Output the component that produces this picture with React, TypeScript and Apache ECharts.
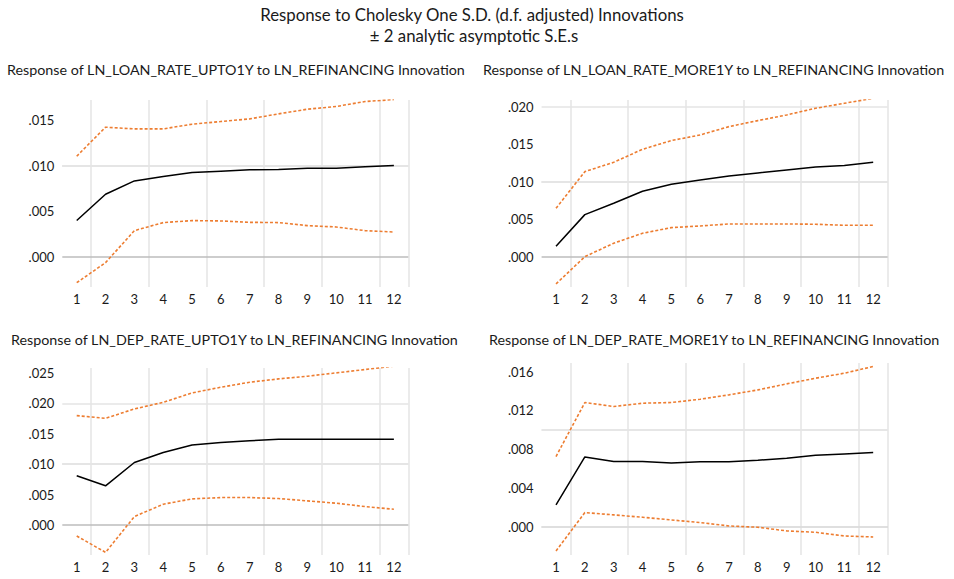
import React, { useEffect, useRef } from 'react';
import * as echarts from 'echarts';

const periods = ['1', '2', '3', '4', '5', '6', '7', '8', '9', '10', '11', '12'];

const mainTitle1 = 'Response to Cholesky One S.D. (d.f. adjusted) Innovations';
const mainTitle2 = '± 2 analytic asymptotic S.E.s';

const panelTitles = [
  'Response of LN_LOAN_RATE_UPTO1Y to LN_REFINANCING Innovation',
  'Response of LN_LOAN_RATE_MORE1Y to LN_REFINANCING Innovation',
  'Response of LN_DEP_RATE_UPTO1Y to LN_REFINANCING Innovation',
  'Response of LN_DEP_RATE_MORE1Y to LN_REFINANCING Innovation',
];

// Panel 1: LN_LOAN_RATE_UPTO1Y
const loanUpto1yResp = [0.0040, 0.00688, 0.00834, 0.00882, 0.00925, 0.0094, 0.00955, 0.00958, 0.00973, 0.00973, 0.00988, 0.01002];
const loanUpto1yUpper = [0.01105, 0.01423, 0.01404, 0.01404, 0.01456, 0.01485, 0.01514, 0.01569, 0.0162, 0.0165, 0.01704, 0.01726];
const loanUpto1yLower = [-0.00282, -0.00062, 0.00289, 0.00377, 0.00399, 0.00395, 0.0038, 0.00377, 0.00344, 0.00329, 0.00289, 0.00274];
const loanUpto1yTicks = [0, 0.005, 0.01, 0.015];

// Panel 2: LN_LOAN_RATE_MORE1Y
const loanMore1yResp = [0.00142, 0.00563, 0.00714, 0.00874, 0.00967, 0.01024, 0.01078, 0.01118, 0.01157, 0.01197, 0.01215, 0.01259];
const loanMore1yUpper = [0.00647, 0.01135, 0.01259, 0.01432, 0.01548, 0.01623, 0.01734, 0.01814, 0.01889, 0.01978, 0.02044, 0.02111];
const loanMore1yLower = [-0.00359, 0.00004, 0.00182, 0.00315, 0.0039, 0.00412, 0.00439, 0.00439, 0.00439, 0.00435, 0.00421, 0.00421];
const loanMore1yTicks = [0, 0.005, 0.01, 0.015, 0.02];

// Panel 3: LN_DEP_RATE_UPTO1Y
const depUpto1yResp = [0.00808, 0.00643, 0.01027, 0.01192, 0.01313, 0.01357, 0.01385, 0.01407, 0.01407, 0.01407, 0.01407, 0.01407];
const depUpto1yUpper = [0.01797, 0.01753, 0.01907, 0.02016, 0.0217, 0.02264, 0.02346, 0.02401, 0.02445, 0.025, 0.02555, 0.0261];
const depUpto1yLower = [-0.00181, -0.00451, 0.00137, 0.00341, 0.00429, 0.0045, 0.0045, 0.00434, 0.00396, 0.00357, 0.00302, 0.00258];
const depUpto1yTicks = [0, 0.005, 0.01, 0.015, 0.02, 0.025];

// Panel 4: LN_DEP_RATE_MORE1Y
const depMore1yResp = [0.00227, 0.00721, 0.00673, 0.00673, 0.00659, 0.0067, 0.0067, 0.00687, 0.00707, 0.00738, 0.00752, 0.00766];
const depMore1yUpper = [0.00725, 0.01281, 0.0124, 0.01274, 0.01281, 0.01315, 0.0136, 0.01411, 0.01473, 0.01531, 0.01583, 0.01652];
const depMore1yLower = [-0.00247, 0.00148, 0.00124, 0.001, 0.00072, 0.00045, 0.0001, -0.00003, -0.00041, -0.00055, -0.00093, -0.00103];
const depMore1yTicks = [0, 0.004, 0.008, 0.012, 0.016];

const FONT = 'Lato, "Noto Sans", sans-serif';
const TEXT = '#1a1a1a';
const GRID_COLOR = '#e4e4e4';
const ZERO_COLOR = '#bdbdbd';
const BAND_COLOR = '#ED7D31';

const fmt = (v: number) => v.toFixed(3).replace(/^0/, '').replace(/^-0/, '-');

export default function App() {
  const ref = useRef<HTMLDivElement>(null);

  useEffect(() => {
    const chart = echarts.init(ref.current!, null, { renderer: 'svg' });

    const panels = [
      { resp: loanUpto1yResp, upper: loanUpto1yUpper, lower: loanUpto1yLower, ticks: loanUpto1yTicks, min: -0.00329, max: 0.01721 },
      { resp: loanMore1yResp, upper: loanMore1yUpper, lower: loanMore1yLower, ticks: loanMore1yTicks, min: -0.004, max: 0.02088 },
      { resp: depUpto1yResp, upper: depUpto1yUpper, lower: depUpto1yLower, ticks: depUpto1yTicks, min: -0.00494, max: 0.0258 },
      { resp: depMore1yResp, upper: depMore1yUpper, lower: depMore1yLower, ticks: depMore1yTicks, min: -0.00289, max: 0.01688 },
    ];

    const grids = [
      { left: 62.3, top: 100, width: 346, height: 187 },
      { left: 541.6, top: 100, width: 346, height: 187 },
      { left: 62.3, top: 368, width: 346, height: 187 },
      { left: 541.6, top: 363, width: 346, height: 192 },
    ];

    const titlePos = [
      { left: 7, top: 62 },
      { left: 483, top: 62 },
      { left: 11, top: 332 },
      { left: 489, top: 332 },
    ];

    const xAxis = panels.map((_, i) => ({
      type: 'category',
      gridIndex: i,
      data: periods,
      boundaryGap: true,
      axisLine: { show: false },
      axisTick: { show: false },
      axisLabel: { color: TEXT, fontSize: 13, fontFamily: FONT, margin: 5, interval: 0 },
      splitLine: {
        show: true,
        interval: (idx: number) => idx % 2 === 1,
        lineStyle: { color: GRID_COLOR, width: 1.5 },
      },
    }));

    const yAxis = panels.map((p, i) => ({
      type: 'value',
      gridIndex: i,
      min: p.min,
      max: p.max,
      axisLine: { show: false },
      axisTick: { show: false },
      splitLine: { show: false },
      axisLabel: {
        customValues: p.ticks,
        formatter: fmt,
        color: TEXT,
        fontSize: 13,
        fontFamily: FONT,
        margin: 8,
      },
    }));

    const series: any[] = [];
    panels.forEach((p, i) => {
      series.push({
        type: 'line',
        xAxisIndex: i,
        yAxisIndex: i,
        data: p.resp,
        showSymbol: false,
        symbol: 'none',
        z: 4,
        lineStyle: { color: '#000000', width: 1.5 },
        markLine: {
          silent: true,
          symbol: 'none',
          z: 1,
          label: { show: false },
          animation: false,
          emphasis: { disabled: true },
          data: p.ticks.map((v) => ({
            yAxis: v,
            lineStyle: { color: v === 0 ? ZERO_COLOR : GRID_COLOR, width: 1.5, type: 'solid' },
          })),
        },
      });
      series.push({
        type: 'line',
        xAxisIndex: i,
        yAxisIndex: i,
        data: p.upper,
        showSymbol: false,
        symbol: 'none',
        z: 3,
        lineStyle: { color: BAND_COLOR, width: 1.6, type: [3, 2] },
      });
      series.push({
        type: 'line',
        xAxisIndex: i,
        yAxisIndex: i,
        data: p.lower,
        showSymbol: false,
        symbol: 'none',
        z: 3,
        lineStyle: { color: BAND_COLOR, width: 1.6, type: [3, 2] },
      });
    });

    const titles: any[] = panelTitles.map((t, i) => ({
      text: t,
      left: titlePos[i].left,
      top: titlePos[i].top,
      padding: 0,
      textStyle: { fontSize: 14.3, fontWeight: 'normal', color: TEXT, fontFamily: FONT },
    }));

    const mainFont = `16.8px ${FONT}`;

    chart.setOption({
      animation: false,
      backgroundColor: '#ffffff',
      title: titles,
      grid: grids,
      xAxis,
      yAxis,
      series,
      graphic: [
        {
          type: 'text',
          x: 472,
          y: 14,
          silent: true,
          style: { text: mainTitle1, font: mainFont, fill: TEXT, textAlign: 'center', textVerticalAlign: 'middle' },
        },
        {
          type: 'text',
          x: 474,
          y: 35,
          silent: true,
          style: { text: mainTitle2, font: mainFont, fill: TEXT, textAlign: 'center', textVerticalAlign: 'middle' },
        },
      ],
    });

    return () => chart.dispose();
  }, []);

  return (
    <div
      ref={ref}
      style={{ position: 'absolute', left: 0, top: 0, width: 954, height: 579, background: '#fff' }}
    />
  );
}
